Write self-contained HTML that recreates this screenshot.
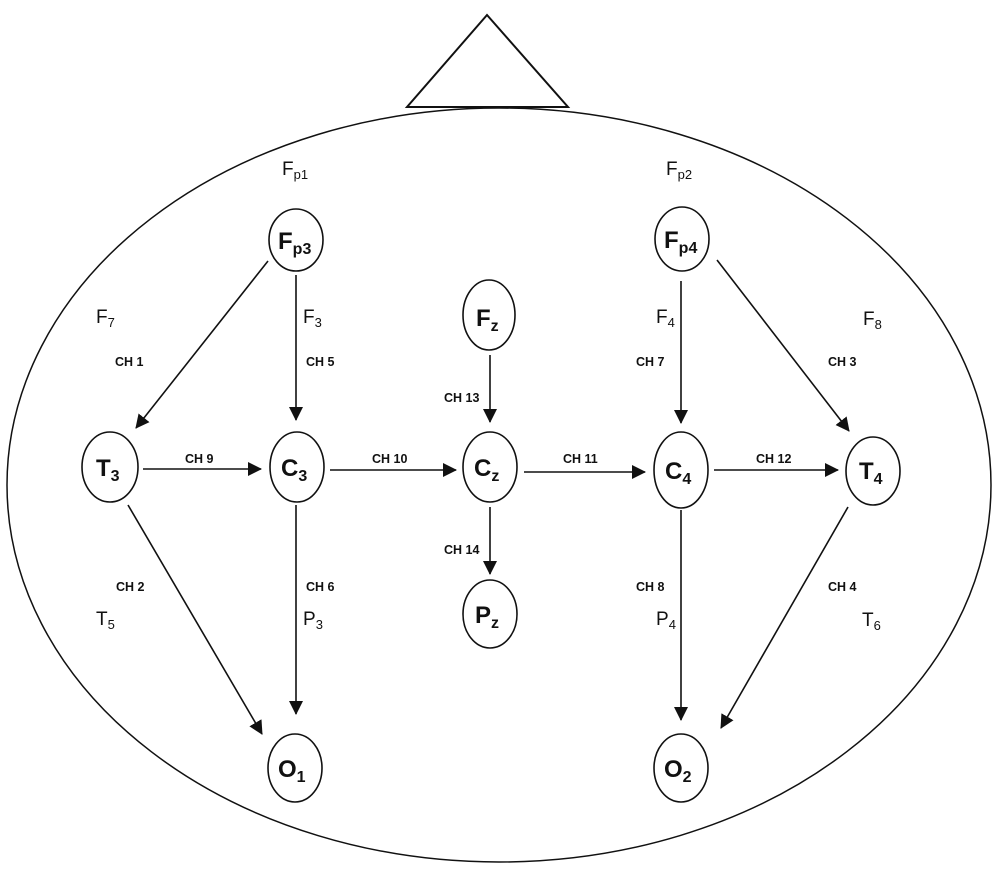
<!DOCTYPE html>
<html><head><meta charset="utf-8"><style>
html,body{margin:0;padding:0;background:#fff;}
svg{display:block;}
text{font-family:"Liberation Sans",Arial,sans-serif;fill:#111;}
.n{font-weight:bold;font-size:24px;}
.ns{font-weight:bold;font-size:16px;}
.ch{font-weight:bold;font-size:12.5px;}
.l{font-size:19px;}
.ls{font-size:13px;}
</style></head><body>
<svg width="1000" height="870" viewBox="0 0 1000 870" xmlns="http://www.w3.org/2000/svg">
<defs><marker id="a" markerWidth="14" markerHeight="14" refX="13" refY="7" orient="auto" markerUnits="userSpaceOnUse"><path d="M0,0 L14,7 L0,14 z" fill="#111"/></marker></defs>
<ellipse cx="499" cy="485" rx="492" ry="377" fill="none" stroke="#111" stroke-width="1.5"/>
<polygon points="487,15 407,107 568,107" fill="#fff" stroke="#111" stroke-width="2"/>
<g fill="none" stroke="#111" stroke-width="1.6">
<ellipse cx="296" cy="240" rx="27" ry="31"/>
<ellipse cx="682" cy="239" rx="27" ry="32"/>
<ellipse cx="489" cy="315" rx="26" ry="35"/>
<ellipse cx="110" cy="467" rx="28" ry="35"/>
<ellipse cx="297" cy="467" rx="27" ry="35"/>
<ellipse cx="490" cy="467" rx="27" ry="35"/>
<ellipse cx="681" cy="470" rx="27" ry="38"/>
<ellipse cx="873" cy="471" rx="27" ry="34"/>
<ellipse cx="490" cy="614" rx="27" ry="34"/>
<ellipse cx="295" cy="768" rx="27" ry="34"/>
<ellipse cx="681" cy="768" rx="27" ry="34"/>
</g>
<g stroke="#111" stroke-width="1.6" marker-end="url(#a)">
<line x1="268" y1="261" x2="136" y2="428"/>
<line x1="296" y1="275" x2="296" y2="420"/>
<line x1="143" y1="469" x2="261" y2="469"/>
<line x1="330" y1="470" x2="456" y2="470"/>
<line x1="524" y1="472" x2="645" y2="472"/>
<line x1="714" y1="470" x2="838" y2="470"/>
<line x1="490" y1="355" x2="490" y2="422"/>
<line x1="490" y1="507" x2="490" y2="574"/>
<line x1="681" y1="281" x2="681" y2="423"/>
<line x1="717" y1="260" x2="849" y2="431"/>
<line x1="128" y1="505" x2="262" y2="734"/>
<line x1="296" y1="505" x2="296" y2="714"/>
<line x1="681" y1="510" x2="681" y2="720"/>
<line x1="848" y1="507" x2="721" y2="728"/>
</g>
<g>
<text class="n" x="278" y="249">F<tspan class="ns" dy="5">p3</tspan></text>
<text class="n" x="664" y="248">F<tspan class="ns" dy="5">p4</tspan></text>
<text class="n" x="476" y="326">F<tspan class="ns" dy="5">z</tspan></text>
<text class="n" x="96" y="476">T<tspan class="ns" dy="5">3</tspan></text>
<text class="n" x="281" y="476">C<tspan class="ns" dy="5">3</tspan></text>
<text class="n" x="474" y="476">C<tspan class="ns" dy="5">z</tspan></text>
<text class="n" x="665" y="479">C<tspan class="ns" dy="5">4</tspan></text>
<text class="n" x="859" y="479">T<tspan class="ns" dy="5">4</tspan></text>
<text class="n" x="475" y="623">P<tspan class="ns" dy="5">z</tspan></text>
<text class="n" x="278" y="777">O<tspan class="ns" dy="5">1</tspan></text>
<text class="n" x="664" y="777">O<tspan class="ns" dy="5">2</tspan></text>
</g>
<g>
<text class="l" x="282" y="175">F<tspan class="ls" dy="4">p1</tspan></text>
<text class="l" x="666" y="175">F<tspan class="ls" dy="4">p2</tspan></text>
<text class="l" x="96" y="323">F<tspan class="ls" dy="4">7</tspan></text>
<text class="l" x="303" y="323">F<tspan class="ls" dy="4">3</tspan></text>
<text class="l" x="656" y="323">F<tspan class="ls" dy="4">4</tspan></text>
<text class="l" x="863" y="325">F<tspan class="ls" dy="4">8</tspan></text>
<text class="l" x="96" y="625">T<tspan class="ls" dy="4">5</tspan></text>
<text class="l" x="303" y="625">P<tspan class="ls" dy="4">3</tspan></text>
<text class="l" x="656" y="625">P<tspan class="ls" dy="4">4</tspan></text>
<text class="l" x="862" y="626">T<tspan class="ls" dy="4">6</tspan></text>
</g>
<g>
<text class="ch" x="115" y="366">CH 1</text>
<text class="ch" x="306" y="366">CH 5</text>
<text class="ch" x="636" y="366">CH 7</text>
<text class="ch" x="828" y="366">CH 3</text>
<text class="ch" x="444" y="402">CH 13</text>
<text class="ch" x="185" y="463">CH 9</text>
<text class="ch" x="372" y="463">CH 10</text>
<text class="ch" x="563" y="463">CH 11</text>
<text class="ch" x="756" y="463">CH 12</text>
<text class="ch" x="444" y="554">CH 14</text>
<text class="ch" x="116" y="591">CH 2</text>
<text class="ch" x="306" y="591">CH 6</text>
<text class="ch" x="636" y="591">CH 8</text>
<text class="ch" x="828" y="591">CH 4</text>
</g>
</svg>
</body></html>
